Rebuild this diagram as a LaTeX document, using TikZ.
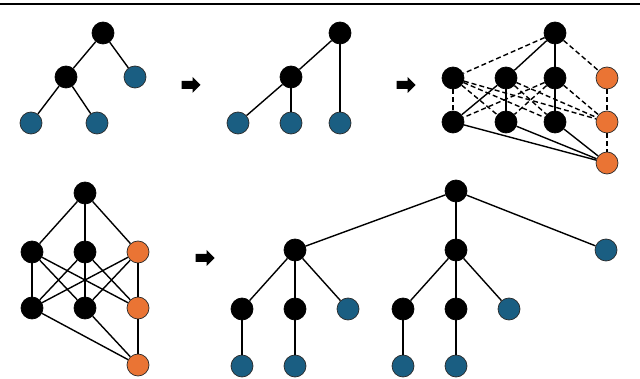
\documentclass[tikz,border=0pt]{standalone}
\usepackage{xcolor}
\usepackage{tikz}
\usetikzlibrary{shapes.arrows}
\definecolor{leafblue}{HTML}{1A5E82}
\definecolor{padorange}{HTML}{EA7434}
\definecolor{rimgray}{HTML}{2A2A2A}

\begin{document}
\begin{tikzpicture}[
 x=1pt,y=-1pt,
 vtx/.style={circle,draw=black,fill=black,line width=0.7pt,minimum size=22pt,inner sep=0pt},
 leaf/.style={vtx,fill=leafblue,draw=rimgray},
 pad/.style={vtx,fill=padorange,draw=rimgray},
 edge/.style={draw=black,line width=1.4pt},
 cand/.style={edge,dash pattern=on 5pt off 3pt},
 goarrow/.style={shape=single arrow,fill=black,inner xsep=0pt,inner ysep=3.8pt,single arrow head extend=4pt,single arrow head indent=0pt,minimum height=19pt}
]
\useasboundingbox (0,0) rectangle (640,379);
\draw[line width=1.6pt] (0,4) -- (640,4);

% original tree
\node[vtx] (a0) at (103,33) {};
\node[vtx] (a1) at (66,77) {};
\node[leaf] (a2) at (135,77) {};
\node[leaf] (a3) at (31,123) {};
\node[leaf] (a4) at (97,123) {};
\draw[edge] (a0)--(a1); \draw[edge] (a0)--(a2);
\draw[edge] (a1)--(a3); \draw[edge] (a1)--(a4);

\node[goarrow] (go1) at (189,85) {};

% leaves aligned
\node[vtx] (b0) at (340,33) {};
\node[vtx] (b1) at (291,77) {};
\node[leaf] (b2) at (238,123) {};
\node[leaf] (b3) at (291,123) {};
\node[leaf] (b4) at (340,123) {};
\draw[edge] (b0)--(b1); \draw[edge] (b0)--(b4);
\draw[edge] (b1)--(b2); \draw[edge] (b1)--(b3);

\node[goarrow] (go2) at (404,85) {};

% candidate layers
\node[vtx] (c0) at (555,33) {};
\foreach \i/\x in {1/453,2/506,3/555} {
  \node[vtx] (c\i) at (\x,78) {};
  \node[vtx] (d\i) at (\x,122) {};
}
\node[pad] (c4) at (607,78) {};
\node[pad] (d4) at (607,122) {};
\node[pad] (e) at (607,163) {};
\draw[cand] (c0)--(c1); \draw[edge] (c0)--(c2);
\draw[edge] (c0)--(c3); \draw[cand] (c0)--(c4);
\foreach \i/\j in {1/1,1/2,1/3,1/4,2/3,2/4,3/1,3/2,3/4,4/4}
  \draw[cand] (c\i)--(d\j);
\draw[edge] (c2)--(d1); \draw[edge] (c2)--(d2); \draw[edge] (c3)--(d3);
\foreach \i in {1,2,3} \draw[edge] (d\i)--(e);
\draw[cand] (d4)--(e);

% full layered graph
\node[vtx] (f0) at (85,193) {};
\foreach \i/\x in {1/32,2/85} {
  \node[vtx] (f\i) at (\x,252) {};
  \node[vtx] (g\i) at (\x,308) {};
}
\node[pad] (f3) at (138,252) {};
\node[pad] (g3) at (138,308) {};
\node[pad] (h) at (138,365) {};
\foreach \i in {1,2,3} {
  \draw[edge] (f0)--(f\i);
  \draw[edge] (g\i)--(h);
  \foreach \j in {1,2,3} \draw[edge] (f\i)--(g\j);
}

\node[goarrow] (go3) at (203,258) {};

% result tree
\node[vtx] (k0) at (456,191) {};
\node[vtx] (k1) at (295,250) {};
\node[vtx] (k2) at (456,250) {};
\node[leaf] (k3) at (606,250) {};
\node[vtx] (m1) at (242,309) {};
\node[vtx] (m2) at (295,309) {};
\node[leaf] (m3) at (348,309) {};
\node[vtx] (m4) at (403,309) {};
\node[vtx] (m5) at (456,309) {};
\node[leaf] (m6) at (509,309) {};
\node[leaf] (n1) at (242,366) {};
\node[leaf] (n2) at (295,366) {};
\node[leaf] (n3) at (403,366) {};
\node[leaf] (n4) at (456,366) {};
\foreach \i in {1,2,3} \draw[edge] (k0)--(k\i);
\foreach \i in {1,2,3} \draw[edge] (k1)--(m\i);
\foreach \i in {4,5,6} \draw[edge] (k2)--(m\i);
\draw[edge] (m1)--(n1); \draw[edge] (m2)--(n2);
\draw[edge] (m4)--(n3); \draw[edge] (m5)--(n4);
\end{tikzpicture}
\end{document}
